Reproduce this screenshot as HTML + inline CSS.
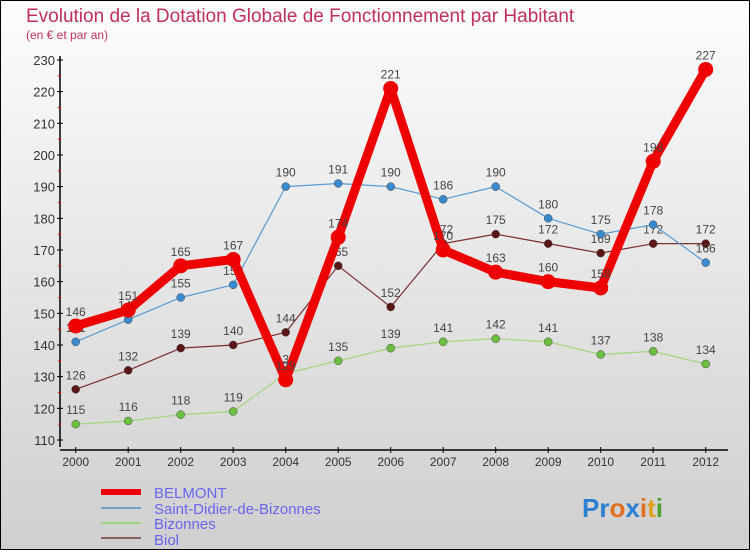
<!DOCTYPE html>
<html><head><meta charset="utf-8"><style>
body{margin:0;width:750px;height:550px;overflow:hidden}
svg{display:block;font-family:"Liberation Sans",sans-serif}
</style></head><body>
<svg id="c" width="750" height="550">
<defs><linearGradient id="bg" x1="0" y1="0" x2="0" y2="1"><stop offset="0" stop-color="#fdfdfd"/><stop offset="1" stop-color="#cfcfcf"/></linearGradient></defs>
<rect x="0.5" y="0.5" width="749" height="549" fill="url(#bg)" stroke="#000"/>
<text x="26" y="22" font-size="19" fill="#c0305a">Evolution de la Dotation Globale de Fonctionnement par Habitant</text>
<text x="26" y="39" font-size="12" fill="#c0305a">(en € et par an)</text>
<g id="axes"></g><g id="series"></g>
<g>
<rect x="101" y="489" width="40" height="6" fill="#e00"/>
<text x="154" y="498" font-size="15" fill="#6666ee">BELMONT</text>
<line x1="101" y1="508" x2="141" y2="508" stroke="#6ea0c8" stroke-width="2"/>
<text x="154" y="514" font-size="15" fill="#6666ee">Saint-Didier-de-Bizonnes</text>
<line x1="101" y1="523" x2="141" y2="523" stroke="#9ed67c" stroke-width="2"/>
<text x="154" y="529" font-size="15" fill="#6666ee">Bizonnes</text>
<line x1="101" y1="538" x2="141" y2="538" stroke="#8a6060" stroke-width="2"/>
<text x="154" y="545" font-size="15" fill="#6666ee">Biol</text>
</g>
<g font-size="26" font-weight="bold">
<text x="582" y="517"><tspan fill="#2a7fd0">Pr</tspan><tspan fill="#e07020">o</tspan><tspan fill="#2a7fd0">x</tspan><tspan fill="#e07020">i</tspan><tspan fill="#e0a020">t</tspan><tspan fill="#50a030">i</tspan></text>
</g>
</svg>
<script>
const years=[2000,2001,2002,2003,2004,2005,2006,2007,2008,2009,2010,2011,2012];
const belmont=[146,151,165,167,129,174,221,170,163,160,158,198,227];
const saintDidier=[141,148,155,159,190,191,190,186,190,180,175,178,166];
const bizonnes=[115,116,118,119,131,135,139,141,142,141,137,138,134];
const biol=[126,132,139,140,144,165,152,172,175,172,169,172,172];
const yTicks=[110,120,130,140,150,160,170,180,190,200,210,220,230];
const NS='http://www.w3.org/2000/svg';
const xS=i=>75.7+i*52.5;
const yS=v=>440-(v-110)*3.167;
function mk(t,a,p){const e=document.createElementNS(NS,t);for(const k in a)e.setAttribute(k,a[k]);p.appendChild(e);return e;}
const ax=document.getElementById('axes');
let l=mk('line',{x1:60,y1:56,x2:60,y2:447,stroke:'#000','stroke-width':1.5},ax);


l=mk('line',{x1:60,y1:450,x2:728,y2:450,stroke:'#000','stroke-width':1.5},ax);


yTicks.forEach((v,i)=>{
 mk('line',{x1:57,y1:yS(v),x2:63,y2:yS(v),stroke:'#000'},ax);
 if(i<yTicks.length-1)mk('line',{x1:58,y1:yS(v+5),x2:61,y2:yS(v+5),stroke:'#e00'},ax);
 const t=mk('text',{x:55,y:yS(v)+5,'font-size':13,fill:'#333','text-anchor':'end'},ax);
 t.textContent=v;
 
 
});
years.forEach((y,i)=>{
 mk('line',{x1:xS(i),y1:447,x2:xS(i),y2:453,stroke:'#000'},ax);
 const t=mk('text',{x:xS(i),y:466,'font-size':12,fill:'#333','text-anchor':'middle'},ax);
 t.textContent=y;
 
 
});
const sg=document.getElementById('series');
function draw(data,name,color,w,r,fill){
 const g=mk('g',{},sg);
 
 
 const p=mk('polyline',{points:data.map((v,i)=>xS(i)+','+yS(v)).join(' '),fill:'none',stroke:color,'stroke-width':w,'stroke-linejoin':'round'},g);
 
 
 data.forEach((v,i)=>{
  const c=mk('circle',{cx:xS(i),cy:yS(v),r:r,fill:fill,stroke:w>3?'none':'#444','stroke-width':0.5},g);
  
  
  const t=mk('text',{x:xS(i),y:yS(v)-10,'font-size':12,fill:'#444','text-anchor':'middle'},g);
  t.textContent=v;
  
  
 });
}
draw(biol,'biol','#7a3030',1.2,4,'#5a1515');
draw(bizonnes,'bizonnes','#9ed67c',1.2,4,'#6cc040');
draw(saintDidier,'saint-didier','#5a9ad0',1.2,4,'#3a8ad0');
draw(belmont,'belmont','#ee0000',9,7.5,'#ee0000');
</script>
</body></html>
